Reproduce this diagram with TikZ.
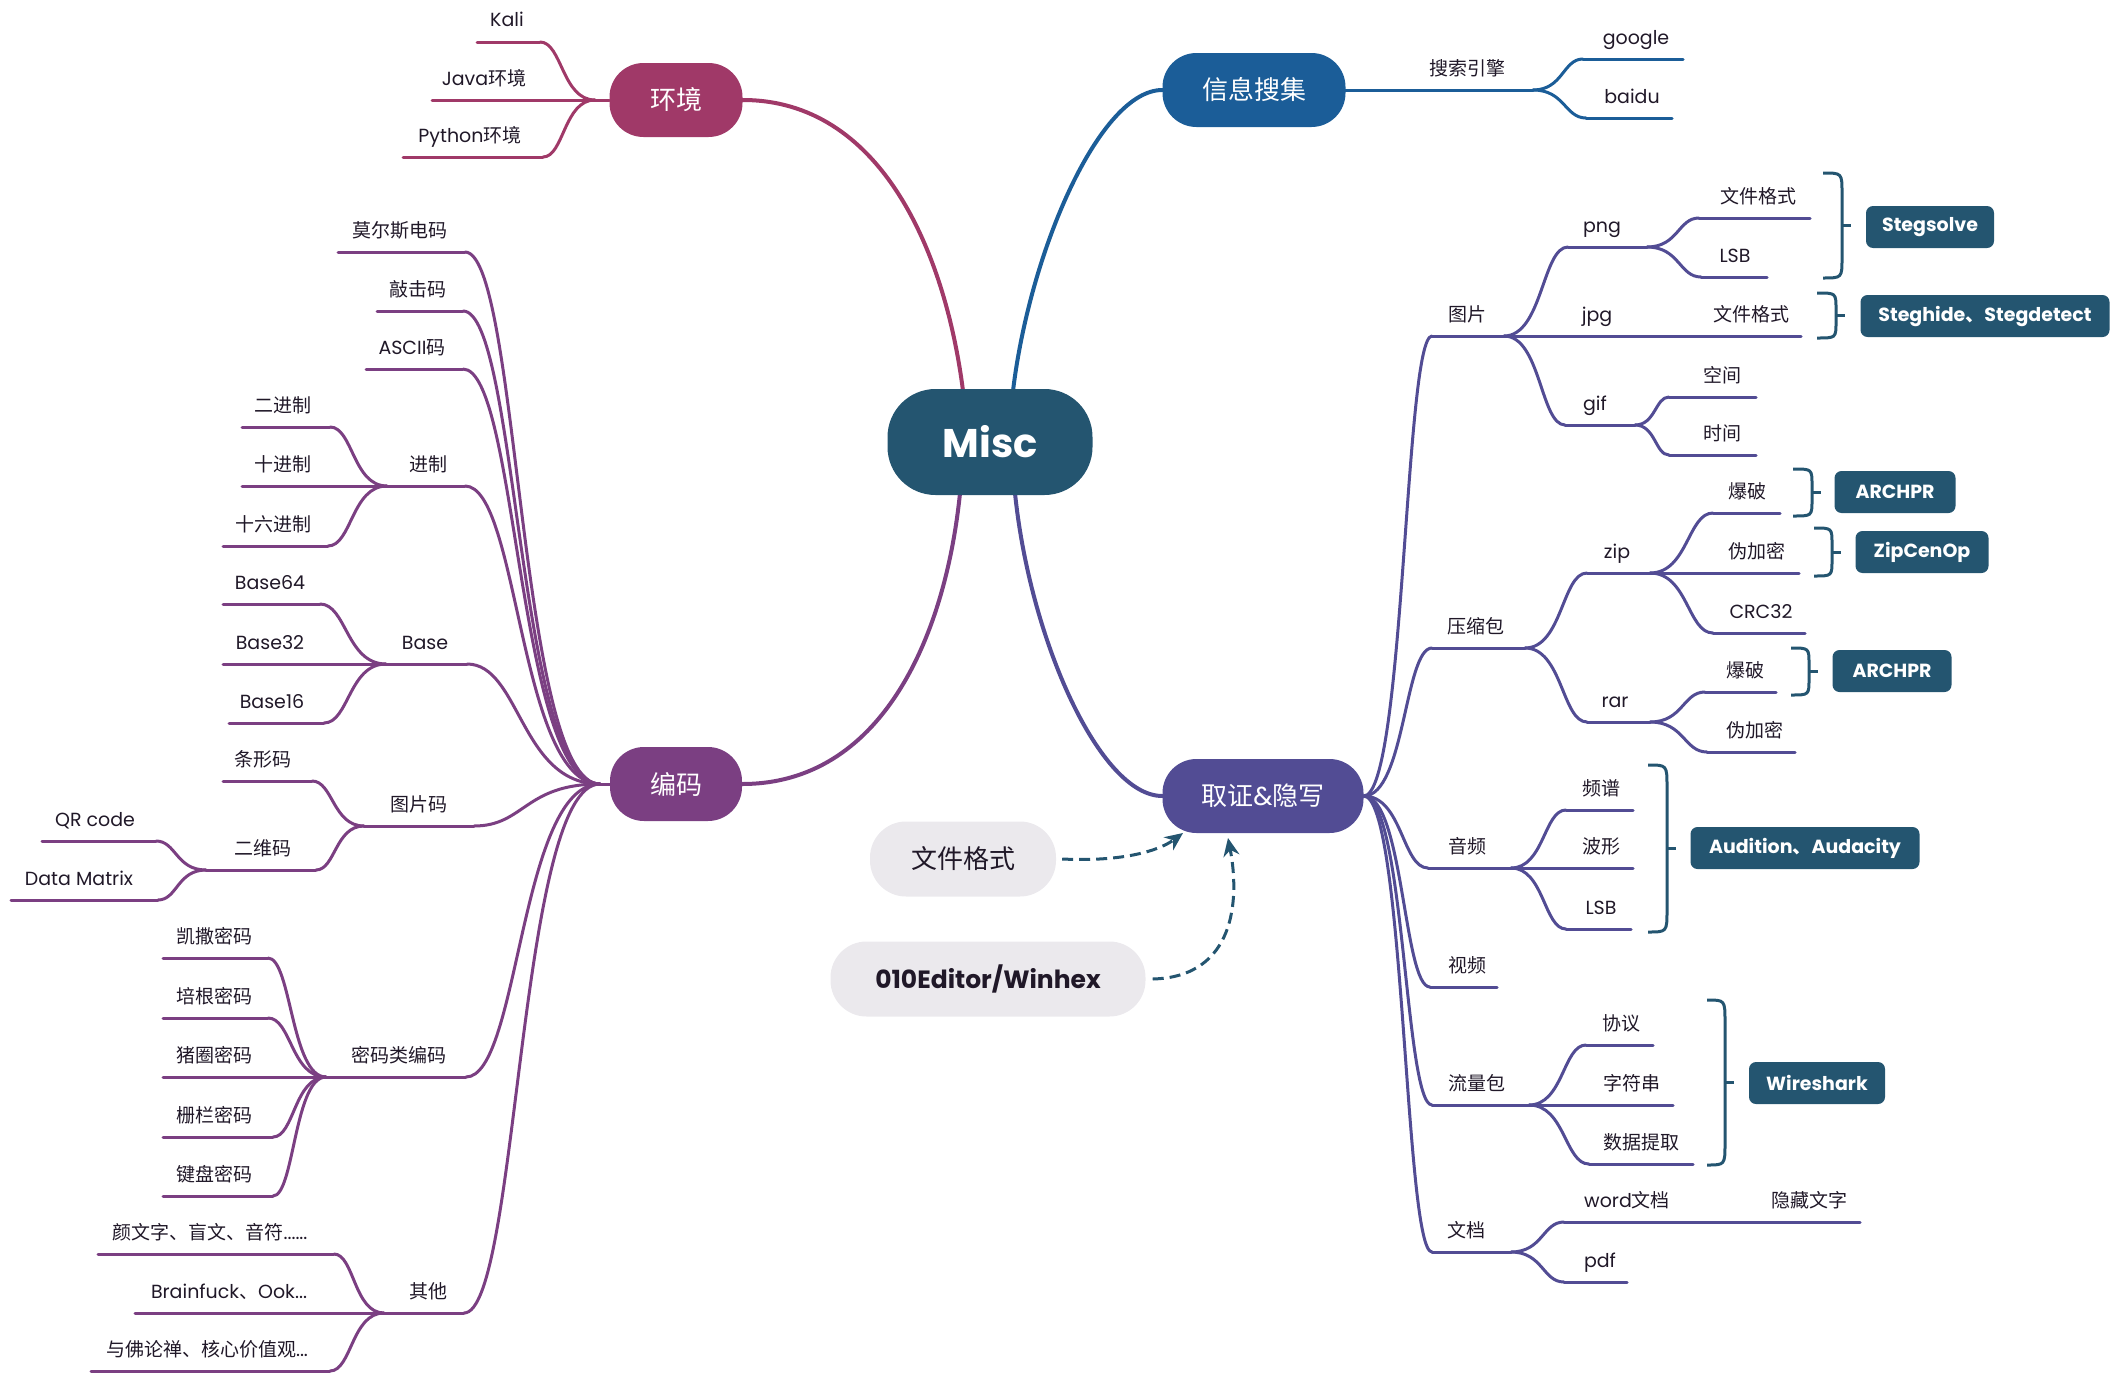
\documentclass[tikz,border=0pt]{standalone}
\usepackage{fontspec}
\setmainfont{Poppins}
\newfontfamily\cjk{Noto Sans CJK SC}
\usetikzlibrary{calc,arrows.meta}
\XeTeXinterchartokenstate=1
\newXeTeXintercharclass\CJKcls
\count255="3000 \loop\ifnum\count255<"3040 \XeTeXcharclass\count255=\CJKcls \advance\count255 1 \repeat
\count255="4E00 \loop\ifnum\count255<"A000 \XeTeXcharclass\count255=\CJKcls \advance\count255 1 \repeat
\count255="FF00 \loop\ifnum\count255<"FFF0 \XeTeXcharclass\count255=\CJKcls \advance\count255 1 \repeat
\XeTeXinterchartoks 0 \CJKcls = {\begingroup\cjk}
\XeTeXinterchartoks 4095 \CJKcls = {\begingroup\cjk}
\XeTeXinterchartoks \CJKcls 0 = {\endgroup}
\XeTeXinterchartoks \CJKcls 4095 = {\endgroup}
\definecolor{miscC}{RGB}{36,85,112}
\definecolor{envC}{RGB}{160,57,104}
\definecolor{infoC}{RGB}{27,93,152}
\definecolor{codeC}{RGB}{123,63,130}
\definecolor{forC}{RGB}{82,76,148}
\definecolor{pillC}{RGB}{235,233,237}
\definecolor{txtC}{RGB}{32,24,40}
\pgfdeclarelayer{bg}\pgfsetlayers{bg,main}
\newcommand\fs[1]{\fontsize{#1}{#1}\selectfont}
\newcommand\lf[7]{%
  \coordinate (#2-l) at (#3,#5);
  \coordinate (#2-r) at (#4,#5);
  \node[lbl] (#2) at (#6,#5) {#7};
  \begin{pgfonlayer}{bg}\draw[brl=#1] (#2-l) -- (#2-r);\end{pgfonlayer}}
\newcommand\sconn[3]{%
  \coordinate (tmpm) at ($(#2)!0.4!(#3)$);
  \begin{pgfonlayer}{bg}\draw[brl=#1] (#2) .. controls (tmpm |- #2) and (tmpm |- #3) .. (#3);\end{pgfonlayer}}
\newcommand\brc[5]{%
  \draw[brcs] (#1,#3) .. controls (#2,#3) .. (#2,#3+#5) -- (#2,#4-#5) .. controls (#2,#4) .. (#1,#4);
  \draw[brcs] (#2,{(#3+#4)/2}) -- ++(9,0);}
\begin{document}
\begin{tikzpicture}[x=1pt,y=-1pt,
  lbl/.style={anchor=base, yshift=15pt, inner sep=0pt, text=txtC, font=\fs{19}},
  brl/.style={draw=#1, line width=3pt, line cap=round},
  topic/.style={fill=#1, text=white, rounded corners=34pt, minimum height=74pt, font=\fs{26}, inner sep=0pt},
  tool/.style={fill=miscC, text=white, rounded corners=7pt, minimum height=42pt, inner sep=3pt, font=\bfseries\fs{19}},
  brcs/.style={draw=miscC, line width=3pt},
  pill/.style={fill=pillC, text=txtC, rounded corners=36pt, minimum height=75pt, inner sep=0pt},
  rel/.style={draw=miscC, line width=3pt, dash pattern=on 11pt off 6pt, -{Stealth[length=18pt,width=16pt]}},
]
\useasboundingbox (0,0) rectangle (2110,1373);
% central and topics
\node[fill=miscC, text=white, rounded corners=48pt, minimum width=205pt, minimum height=106pt, inner sep=0pt, font=\bfseries\fs{40}] (misc) at (990,442) {Misc};
\node[topic=envC, minimum width=133pt] (env) at (676,100) {环境};
\node[topic=infoC, minimum width=183pt] (info) at (1254,90) {信息搜集};
\node[topic=codeC, minimum width=132pt] (code) at (676,784) {编码};
\node[topic=forC, minimum width=201pt] (fo) at (1263,796) {取证\&隐写};
\node[pill, minimum width=186pt, font=\fs{26}] (ff) at (963,859) {文件格式};
\node[pill, minimum width=315pt, font=\bfseries\fs{25}] (hex) at (988,979) {010Editor/Winhex};
\coordinate (mEnv) at ($(misc.north)+(-27,2)$);
\coordinate (mInfo) at ($(misc.north)+(23,2)$);
\coordinate (mCode) at ($(misc.south)+(-30,-2)$);
\coordinate (mFor) at ($(misc.south)+(25,-2)$);
\begin{pgfonlayer}{bg}
\draw[brl=envC, line width=4pt] (mEnv) .. controls (945,250) and (880,100) .. (env.east);
\draw[brl=infoC, line width=4pt] (mInfo) .. controls (1030,250) and (1100,90) .. (info.west);
\draw[brl=codeC, line width=4pt] (mCode) .. controls (945,640) and (880,784) .. (code.east);
\draw[brl=forC, line width=4pt] (mFor) .. controls (1030,640) and (1100,796) .. (fo.west);
\end{pgfonlayer}
% env
\lf{envC}{kali}{477}{540}{42}{507}{Kali}
\lf{envC}{java}{432}{595}{100}{484}{Java环境}
\lf{envC}{py}{403}{543}{157}{470}{Python环境}
\sconn{envC}{kali-r}{java-r}
\sconn{envC}{py-r}{java-r}
\begin{pgfonlayer}{bg}\draw[brl=envC] (java-r) -- (env.west);\end{pgfonlayer}
% info
\lf{infoC}{se}{1345}{1533}{90}{1467}{搜索引擎}
\lf{infoC}{ggl}{1583}{1683}{59}{1636}{google}
\lf{infoC}{bd}{1586}{1672}{118}{1632}{baidu}
\sconn{infoC}{ggl-l}{se-r}
\sconn{infoC}{bd-l}{se-r}
% forensics
\lf{forC}{pic}{1432}{1504}{336}{1467}{图片}
\lf{forC}{png}{1568}{1647}{247}{1602}{png}
\lf{forC}{pngf}{1699}{1810}{218}{1758}{文件格式}
\lf{forC}{pngl}{1701}{1767}{277}{1735}{LSB}
\lf{forC}{jpg}{1504}{1650}{336}{1597}{jpg}
\lf{forC}{jpgf}{1650}{1801}{336}{1751}{文件格式}
\lf{forC}{gif}{1565}{1635}{425}{1595}{gif}
\lf{forC}{kj}{1669}{1756}{397}{1722}{空间}
\lf{forC}{sj}{1669}{1756}{455}{1722}{时间}
\sconn{forC}{png-l}{pic-r}
\sconn{forC}{gif-l}{pic-r}
\sconn{forC}{pngf-l}{png-r}
\sconn{forC}{pngl-l}{png-r}
\sconn{forC}{kj-l}{gif-r}
\sconn{forC}{sj-l}{gif-r}
\lf{forC}{cmp}{1432}{1525}{648}{1476}{压缩包}
\lf{forC}{zip}{1587}{1650}{573}{1617}{zip}
\lf{forC}{zbp}{1713}{1780}{513}{1747}{爆破}
\lf{forC}{zwj}{1650}{1799}{573}{1757}{伪加密}
\lf{forC}{crc}{1713}{1805}{633}{1761}{CRC32}
\lf{forC}{rar}{1587}{1650}{722}{1615}{rar}
\lf{forC}{rbp}{1705}{1776}{692}{1745}{爆破}
\lf{forC}{rwj}{1707}{1795}{752}{1755}{伪加密}
\sconn{forC}{zip-l}{cmp-r}
\sconn{forC}{rar-l}{cmp-r}
\sconn{forC}{zbp-l}{zip-r}
\sconn{forC}{crc-l}{zip-r}
\sconn{forC}{rbp-l}{rar-r}
\sconn{forC}{rwj-l}{rar-r}
\lf{forC}{aud}{1428}{1511}{868}{1467}{音频}
\lf{forC}{pp}{1566}{1633}{810}{1601}{频谱}
\lf{forC}{bx}{1511}{1633}{868}{1601}{波形}
\lf{forC}{alsb}{1566}{1631}{929}{1601}{LSB}
\sconn{forC}{pp-l}{aud-r}
\sconn{forC}{alsb-l}{aud-r}
\lf{forC}{vid}{1430}{1497}{987}{1467}{视频}
\lf{forC}{net}{1432}{1529}{1105}{1477}{流量包}
\lf{forC}{xy}{1586}{1653}{1045}{1621}{协议}
\lf{forC}{zfc}{1529}{1673}{1105}{1632}{字符串}
\lf{forC}{sjtq}{1589}{1693}{1164}{1641}{数据提取}
\sconn{forC}{xy-l}{net-r}
\sconn{forC}{sjtq-l}{net-r}
\lf{forC}{doc}{1432}{1511}{1252}{1466}{文档}
\lf{forC}{word}{1564}{1720}{1222}{1627}{word文档}
\lf{forC}{hid}{1720}{1860}{1222}{1809}{隐藏文字}
\lf{forC}{pdf}{1564}{1627}{1282}{1600}{pdf}
\sconn{forC}{word-l}{doc-r}
\sconn{forC}{pdf-l}{doc-r}
\foreach \c in {pic,cmp,aud,vid,net,doc} {\sconn{forC}{\c-l}{fo.east}}
% braces and tools
\brc{1823}{1842}{173}{278}{20}
\brc{1817}{1836}{293}{338}{16}
\brc{1793}{1812}{469}{516}{16}
\brc{1814}{1832}{528}{576}{16}
\brc{1791}{1809}{648}{695}{16}
\brc{1648}{1667}{765}{932}{22}
\brc{1707}{1725}{1000}{1165}{22}
\node[tool, minimum width=128pt] (t1) at (1930,227) {Stegsolve};
\node[tool, minimum width=249pt] (t2) at (1985,316) {Steghide、Stegdetect};
\node[tool, minimum width=121pt] (t3) at (1895,492) {ARCHPR};
\node[tool, minimum width=133pt] (t4) at (1922,552) {ZipCenOp};
\node[tool, minimum width=119pt] (t5) at (1892,671) {ARCHPR};
\node[tool, minimum width=229pt] (t6) at (1805,848) {Audition、Audacity};
\node[tool, minimum width=136pt] (t7) at (1817,1083) {Wireshark};
% code
\lf{codeC}{mors}{338}{465}{252}{400}{莫尔斯电码}
\lf{codeC}{qjm}{377}{463}{311}{418}{敲击码}
\lf{codeC}{asc}{366}{463}{369}{412}{ASCII码}
\lf{codeC}{jz}{387}{465}{486}{428}{进制}
\lf{codeC}{ejz}{242}{330}{427}{283}{二进制}
\lf{codeC}{sjz}{242}{387}{486}{283}{十进制}
\lf{codeC}{sljz}{223}{328}{546}{273}{十六进制}
\lf{codeC}{base}{386}{467}{664}{425}{Base}
\lf{codeC}{b64}{223}{320}{604}{270}{Base64}
\lf{codeC}{b32}{223}{386}{664}{270}{Base32}
\lf{codeC}{b16}{229}{324}{723}{272}{Base16}
\lf{codeC}{tpm}{364}{474}{826}{419}{图片码}
\lf{codeC}{txm}{223}{312}{781}{263}{条形码}
\lf{codeC}{ewm}{206}{316}{870}{263}{二维码}
\lf{codeC}{qr}{42}{156}{841}{95}{QR code}
\lf{codeC}{dm}{11}{158}{900}{79}{Data Matrix}
\lf{codeC}{mml}{326}{466}{1077}{399}{密码类编码}
\lf{codeC}{ks}{163}{268}{958}{214}{凯撒密码}
\lf{codeC}{pg}{163}{268}{1018}{214}{培根密码}
\lf{codeC}{zq}{163}{326}{1077}{214}{猪圈密码}
\lf{codeC}{zl}{163}{273}{1137}{214}{栅栏密码}
\lf{codeC}{jp}{163}{273}{1196}{214}{键盘密码}
\lf{codeC}{qt}{384}{464}{1313}{428}{其他}
\lf{codeC}{ywz}{98}{334}{1254}{210}{颜文字、盲文、音符......}
\lf{codeC}{bf}{135}{384}{1313}{229}{Brainfuck、Ook...}
\lf{codeC}{fz}{91}{330}{1371}{207}{与佛论禅、核心价值观...}
\coordinate (codeJ) at (600,784);
\begin{pgfonlayer}{bg}\draw[brl=codeC] (codeJ) -- (code.west);\end{pgfonlayer}
\foreach \c in {mors,qjm,asc,jz,base,tpm,mml,qt} {\sconn{codeC}{\c-r}{codeJ}}
\sconn{codeC}{ejz-r}{jz-l}
\sconn{codeC}{sljz-r}{jz-l}
\sconn{codeC}{b64-r}{base-l}
\sconn{codeC}{b16-r}{base-l}
\sconn{codeC}{txm-r}{tpm-l}
\sconn{codeC}{ewm-r}{tpm-l}
\sconn{codeC}{qr-r}{ewm-l}
\sconn{codeC}{dm-r}{ewm-l}
\foreach \c in {ks,pg,zl,jp} {\sconn{codeC}{\c-r}{mml-l}}
\sconn{codeC}{ywz-r}{qt-l}
\sconn{codeC}{fz-r}{qt-l}
% relations
\coordinate (ffT) at (1183,833);
\coordinate (hexT) at (1228,838);
\draw[rel] ([xshift=6pt]ff.east) .. controls (1125,862) and (1160,850) .. (ffT);
\draw[rel] ([xshift=7pt]hex.east) .. controls (1235,977) and (1240,900) .. (hexT);
\end{tikzpicture}
\end{document}
